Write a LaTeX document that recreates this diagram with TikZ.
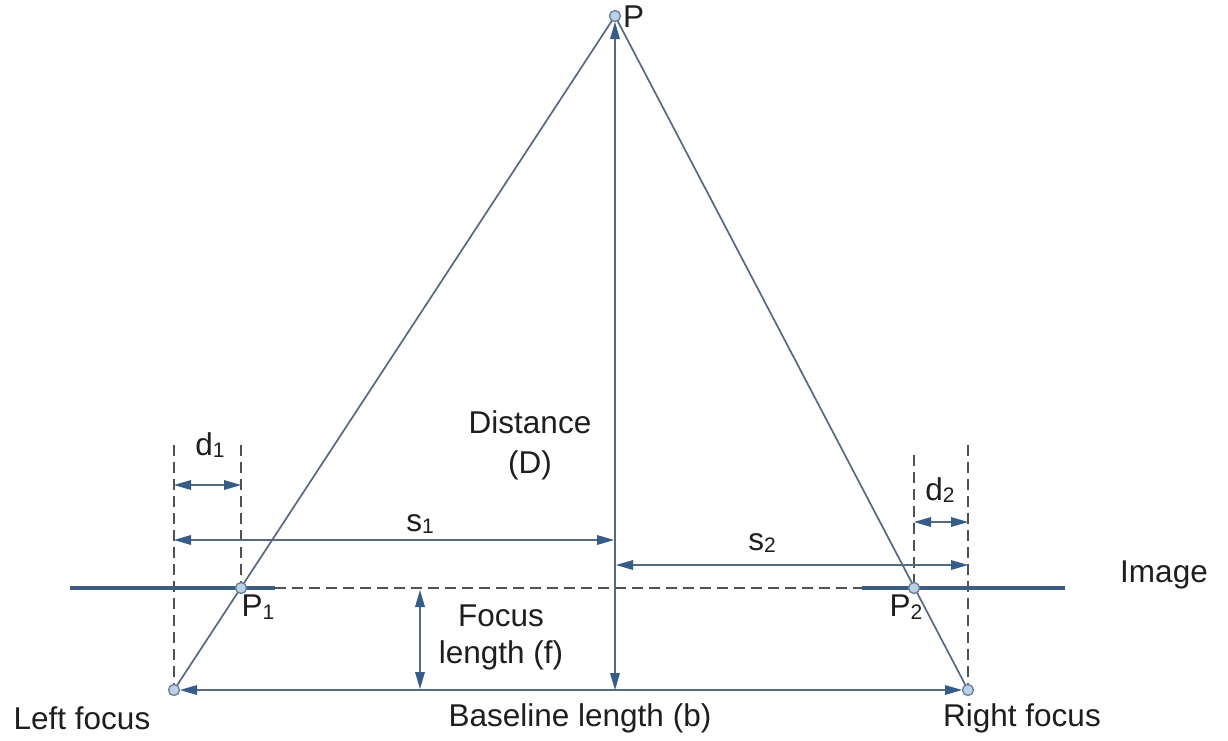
\documentclass[tikz,border=0pt]{standalone}
\usepackage{fontspec}
\setmainfont{Liberation Sans}
\usetikzlibrary{arrows.meta}
\definecolor{lineC}{RGB}{85,105,130}
\definecolor{tipC}{RGB}{55,92,135}
\definecolor{thickC}{RGB}{60,92,130}
\definecolor{dashC}{RGB}{80,80,85}
\definecolor{dotFill}{RGB}{185,208,230}
\definecolor{dotDraw}{RGB}{105,125,150}
\definecolor{txtC}{RGB}{30,30,30}
\newcommand{\sbs}[1]{\raisebox{-0.15ex}{\fontsize{21}{21}\selectfont #1}}
\tikzset{
  thin line/.style={draw=lineC, line width=1.7pt},
  tipS/.style={},
  dim/.style={thin line, {Triangle[length=17pt,width=10pt,fill=tipC,line width=0pt]}-{Triangle[length=17pt,width=10pt,fill=tipC,line width=0pt]}},
  guide/.style={draw=dashC, line width=1.4pt, dash pattern=on 11pt off 6pt},
  thick line/.style={draw=thickC, line width=4.5pt},
  pt/.style={circle, draw=dotDraw, fill=dotFill, line width=1.3pt, minimum size=11pt, inner sep=0pt},
  lbl/.style={text=txtC, font=\fontsize{31.5}{37}\selectfont, inner sep=0pt},
}
\begin{document}
\begin{tikzpicture}[x=1pt,y=-1pt]
\useasboundingbox (0,0) rectangle (1228,740);
% key coordinates
\coordinate (P) at (615,16);
\coordinate (LF) at (174,690);
\coordinate (RF) at (968,690);
\coordinate (P1) at (241,588);
\coordinate (P2) at (914,588);
\coordinate (B) at (615,690);
\coordinate (ImL) at (70,588);
\coordinate (ImLe) at (275,588);
\coordinate (ImR) at (1065,588);
\coordinate (ImRs) at (862,588);
% dashed guides
\coordinate (g1t) at (174,445);
\coordinate (g2t) at (241,445);
\coordinate (g3t) at (914,455);
\coordinate (g4t) at (968,445);
\draw[guide] (g1t) -- (LF);
\draw[guide] (g2t) -- (P1);
\draw[guide] (g3t) -- (P2);
\draw[guide] (g4t) -- (RF);
\draw[guide] (ImLe) -- (ImRs);
% image plane thick segments
\draw[thick line] (ImL) -- (ImLe);
\draw[thick line] (ImRs) -- (ImR);
% rays
\draw[thin line] (LF) -- (P);
\draw[thin line] (RF) -- (P);
% distance vertical
\coordinate (Ptip) at (615,22);
\draw[dim] (Ptip) -- (B);
% baseline
\coordinate (LFt) at (180,690);
\coordinate (RFt) at (962,690);
\draw[dim] (LFt) -- (RFt);
% d1, d2
\coordinate (d1a) at (174,485);
\coordinate (d1b) at (241,485);
\draw[dim] (d1a) -- (d1b);
\coordinate (d2a) at (914,522);
\coordinate (d2b) at (968,522);
\draw[dim] (d2a) -- (d2b);
% s1, s2
\coordinate (s1a) at (174,540);
\coordinate (s1b) at (614,540);
\draw[dim] (s1a) -- (s1b);
\coordinate (s2a) at (616,565);
\coordinate (s2b) at (968,565);
\draw[dim] (s2a) -- (s2b);
% focus length
\coordinate (fa) at (420,590);
\coordinate (fb) at (420,689);
\draw[dim] (fa) -- (fb);
% dots
\node[pt] (nP) at (P) {};
\node[pt] (nLF) at (LF) {};
\node[pt] (nRF) at (RF) {};
\node[pt] (nP1) at (P1) {};
\node[pt] (nP2) at (P2) {};
% labels
\node[lbl, anchor=west] (tP) at (623,17) {P};
\node[lbl, align=center] (tD) at (530,445) {Distance\\[3pt](D)};
\node[lbl] (td1) at (210,445) {d\sbs{1}};
\node[lbl] (ts1) at (420,524) {s\sbs{1}};
\node[lbl] (ts2) at (762,543) {s\sbs{2}};
\node[lbl] (td2) at (940,490) {d\sbs{2}};
\node[lbl] (tImg) at (1164,575) {Image};
\node[lbl] (tP1) at (258,607) {P\sbs{1}};
\node[lbl] (tP2) at (906,607) {P\sbs{2}};
\node[lbl, align=center] (tf) at (501,637) {Focus\\length (f)};
\node[lbl] (tLF) at (82,718) {Left focus};
\node[lbl] (tB) at (580,718) {Baseline length (b)};
\node[lbl] (tRF) at (1022,718) {Right focus};
\end{tikzpicture}
\end{document}
